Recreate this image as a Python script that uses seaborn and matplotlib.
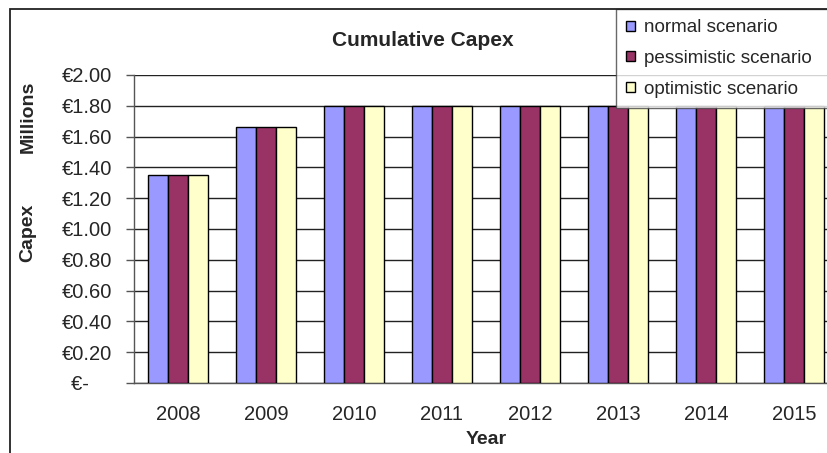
import pandas as pd
import numpy as np
import matplotlib
matplotlib.use('Agg')
import matplotlib.pyplot as plt
import seaborn as sns
from matplotlib.patches import Rectangle

years = ['2008', '2009', '2010', '2011', '2012', '2013', '2014', '2015']
scenarios = ['normal scenario', 'pessimistic scenario', 'optimistic scenario']
normal = [1.35, 1.665, 1.80, 1.80, 1.80, 1.80, 1.80, 1.80]
pessimistic = [1.35, 1.665, 1.80, 1.80, 1.80, 1.80, 1.80, 1.80]
optimistic = [1.35, 1.665, 1.80, 1.80, 1.80, 1.80, 1.80, 1.80]
ytick_vals = [0, 0.2, 0.4, 0.6, 0.8, 1.0, 1.2, 1.4, 1.6, 1.8, 2.0]
ytick_labels = ['€-    ', '€0.20', '€0.40', '€0.60', '€0.80', '€1.00',
                '€1.20', '€1.40', '€1.60', '€1.80', '€2.00']
colors = ['#9999FF', '#993366', '#FFFFCC']

rows = []
for name, vals in zip(scenarios, [normal, pessimistic, optimistic]):
    for y, v in zip(years, vals):
        rows.append({'Year': y, 'Capex': v, 'Scenario': name})
df = pd.DataFrame(rows)

sns.set_style('white')
plt.rcParams['font.family'] = ['Liberation Sans', 'DejaVu Sans']

fig = plt.figure(figsize=(8.27, 4.53), dpi=100)
W, H = 827, 453
ax = fig.add_axes([134 / W, 1 - 383 / H, 704 / W, (383 - 75) / H])

sns.barplot(data=df, x='Year', y='Capex', hue='Scenario', palette=colors,
            width=0.68, gap=0, edgecolor='black', linewidth=1, ax=ax,
            saturation=1, zorder=3)

ax.set_xlim(-0.5, 7.5)
ax.set_ylim(0, 2.0)
ax.set_yticks(ytick_vals)
ax.set_yticklabels(ytick_labels, fontsize=14.5)
ax.set_xticks(np.arange(len(years)))
ax.set_xticklabels(years, fontsize=14.5)
ax.tick_params(axis='x', length=0, pad=16)
ax.set_xticks(np.arange(-0.5, 8, 1), minor=True)
ax.tick_params(axis='x', which='minor', length=6, width=1, color='#555555', direction='out')
ax.tick_params(axis='y', length=6, width=1, color='#555555', direction='out', left=True, pad=10)
ax.grid(axis='y', color='#222222', linewidth=1, zorder=0)
ax.set_axisbelow(True)
for s in ['top', 'right']:
    ax.spines[s].set_visible(False)
for s in ['left', 'bottom']:
    ax.spines[s].set_color('#555555')
    ax.spines[s].set_linewidth(1)
ax.set_xlabel('')
ax.set_ylabel('')

fig.text(423 / W, 1 - 40 / H, 'Cumulative Capex', fontsize=15, fontweight='bold',
         ha='center', va='center')
fig.text(486 / W, 1 - 439 / H, 'Year', fontsize=14, fontweight='bold',
         ha='center', va='center')
fig.text(28 / W, 1 - 117 / H, 'Millions', fontsize=14, fontweight='bold',
         rotation=90, ha='center', va='center')
fig.text(28 / W, 1 - 233 / H, 'Capex', fontsize=14, fontweight='bold',
         rotation=90, ha='center', va='center')

# legend box runs past the right edge like in the original export
handles, labels = ax.get_legend_handles_labels()
leg_top = 1 - 9 / H
leg_h = 94 / H
ax.legend(handles, labels, loc='upper left',
          bbox_to_anchor=(616 / W, leg_top - leg_h, 240 / W, leg_h),
          bbox_transform=fig.transFigure, mode='expand', fontsize=13.6,
          frameon=True, fancybox=False, edgecolor='#444444', borderaxespad=0,
          handlelength=0.45, handleheight=0.45, handletextpad=0.5,
          labelspacing=0.72, borderpad=0.55, title=None)
ax.get_legend().get_frame().set_linewidth(1)

fig.patches.append(Rectangle((10 / W, -0.2), 1.5, 1 - 9 / H + 0.2,
                             transform=fig.transFigure, fill=False,
                             edgecolor='#222222', linewidth=1.3, zorder=10))

fig.savefig('out.png', dpi=100)
